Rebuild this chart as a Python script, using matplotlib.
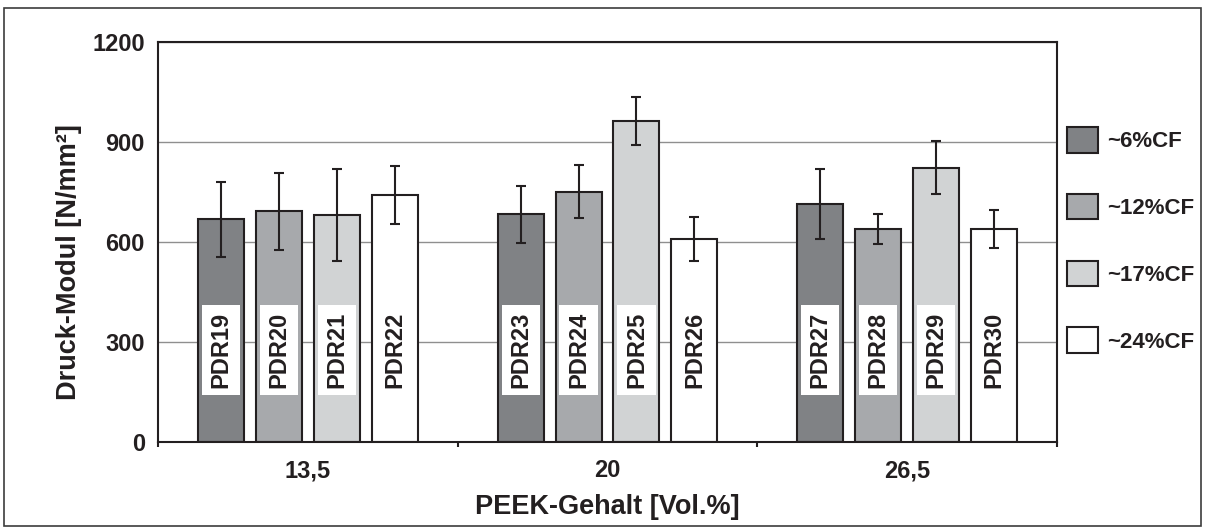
import matplotlib
matplotlib.use("Agg")
import matplotlib.pyplot as plt
import numpy as np
from matplotlib.patches import Rectangle

# PEEK content groups (x axis) and carbon fibre series
groups = ["13,5", "20", "26,5"]
series = ["~6%CF", "~12%CF", "~17%CF", "~24%CF"]

# sample names per series, one per PEEK group
samples_6 = ["PDR19", "PDR23", "PDR27"]
samples_12 = ["PDR20", "PDR24", "PDR28"]
samples_17 = ["PDR21", "PDR25", "PDR29"]
samples_24 = ["PDR22", "PDR26", "PDR30"]

# compression modulus [N/mm^2] per series, one per PEEK group
modulus_6 = [668, 683, 715]
modulus_12 = [692, 751, 640]
modulus_17 = [680, 963, 823]
modulus_24 = [742, 610, 640]

# standard deviation per series
std_6 = [112, 85, 105]
std_12 = [116, 80, 45]
std_17 = [138, 73, 80]
std_24 = [87, 66, 57]

yticks = [0, 300, 600, 900, 1200]

plt.rcParams["font.family"] = ["Liberation Sans", "DejaVu Sans"]
plt.rcParams["font.weight"] = "bold"
plt.rcParams["axes.labelweight"] = "bold"

INK = "#231f20"
fills = ["#808285", "#a7a9ac", "#d1d3d4", "#ffffff"]

W, H = 1206, 531
fig = plt.figure(figsize=(W / 100, H / 100), dpi=100)
ax = fig.add_axes([158 / W, 1 - 442 / H, (1057 - 158) / W, 400 / H])

pitch = 0.1933
bar_w = 0.1533
tag_bottom, tag_top = 141, 411
x = np.arange(len(groups))

rows = [
    (series[0], modulus_6, std_6, samples_6),
    (series[1], modulus_12, std_12, samples_12),
    (series[2], modulus_17, std_17, samples_17),
    (series[3], modulus_24, std_24, samples_24),
]

for i, (name, vals, errs, names) in enumerate(rows):
    xs = x + (i - 1.5) * pitch
    ax.bar(xs, vals, bar_w, color=fills[i], edgecolor=INK, linewidth=1.5,
           zorder=2, label=name)
    ax.errorbar(xs, vals, yerr=errs, fmt="none", ecolor=INK, elinewidth=1.5,
                capsize=3.6, capthick=1.5, zorder=4)
    # white tag behind each sample name
    ax.bar(xs, tag_top - tag_bottom, bar_w * 0.83, bottom=tag_bottom,
           color="white", linewidth=0, zorder=3)
    for xi, nm in zip(xs, names):
        ax.text(xi, (tag_bottom + tag_top) / 2, nm, rotation=90,
                ha="center", va="center", fontsize=17, fontweight="bold",
                color=INK, zorder=5)

ax.set_xlim(-0.5, len(groups) - 0.5)
ax.set_ylim(0, 1200)
ax.set_yticks(yticks)
ax.set_yticklabels([str(v) for v in yticks])
ax.yaxis.grid(True, color="#8f8f8f", linewidth=1.0)
ax.set_axisbelow(True)
ax.tick_params(axis="y", length=0, pad=9.5, labelsize=17, labelcolor=INK)

ax.set_xticks(np.arange(len(groups) + 1) - 0.5)
ax.set_xticklabels([])
ax.set_xticks(x, minor=True)
ax.set_xticklabels(groups, minor=True)
ax.tick_params(axis="x", which="major", direction="out", length=3.8,
               width=1.5, color=INK)
ax.tick_params(axis="x", which="minor", length=0, pad=12.5, labelsize=17,
               labelcolor=INK)

for sp in ax.spines.values():
    sp.set_linewidth(1.5)
    sp.set_color(INK)

ax.set_ylabel("Druck-Modul [N/mm²]", fontsize=19.5, fontweight="bold",
              color=INK)
ax.yaxis.set_label_coords(-0.085, 0.45)
ax.set_xlabel("PEEK-Gehalt [Vol.%]", fontsize=19.5, fontweight="bold",
              color=INK, va="top")
ax.xaxis.set_label_coords(0.5, -0.13)

ax.legend(loc="upper left", bbox_to_anchor=(1067 / W, 1 - 127 / H),
          bbox_transform=fig.transFigure, frameon=False,
          prop={"size": 16, "weight": "bold"},
          handlelength=1.4, handleheight=1.4, handletextpad=0.4,
          labelspacing=1.85, borderpad=0, borderaxespad=0,
          labelcolor=INK)

fig.add_artist(Rectangle((4 / W, 1 - 526 / H), (1201 - 4) / W, (526 - 8) / H,
                         transform=fig.transFigure, fill=False,
                         edgecolor="#3c3c3c", linewidth=1.2))

fig.savefig("out.png", dpi=100)
